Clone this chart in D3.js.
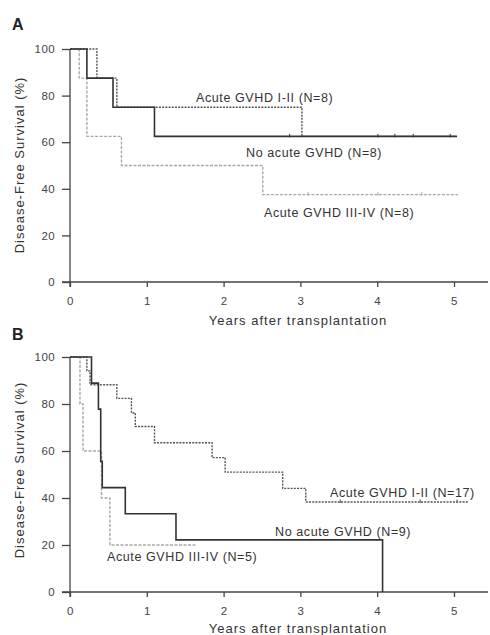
<!DOCTYPE html>
<html lang="en">
<head>
  <meta charset="utf-8">
  <title>Disease-free survival by acute GVHD</title>
  <script src="https://d3js.org/d3.v7.min.js"></script>
  <style>
    body { margin: 0; background: white; }
    svg { font-family: "Liberation Sans", Arial, sans-serif; }
    .tick text { font-size: 11.5px; fill: #444; letter-spacing: 0.4px; }
    .tick line { stroke: #444; stroke-width: 1.3; }
    .axisline { stroke: #444; stroke-width: 1.3; }
    .title { font-size: 13px; fill: #333; letter-spacing: 1px; }
    .label { font-size: 12.5px; fill: #333; letter-spacing: 0.6px; }
    .panel { font-size: 16px; font-weight: bold; fill: #222; }
  </style>
</head>
<body>
  <div id="chart"></div>
  <script>
    var w = 490;
    var h = 635;

    var yearTicks = [0, 1, 2, 3, 4, 5];
    var pctTicks = [0, 20, 40, 60, 80, 100];

    // panel A, step curves (years, % disease-free)
    var aMildYears = [0, 0.35, 0.61, 3.02, 5.03];
    var aMildSurv  = [100, 87.5, 75, 62.5, 62.5];
    var aNoneYears = [0, 0.22, 0.56, 1.1, 5.04];
    var aNoneSurv  = [100, 87.5, 75, 62.5, 62.5];
    var aSevYears  = [0, 0.12, 0.22, 0.67, 2.51, 5.05];
    var aSevSurv   = [100, 87.5, 62.5, 50, 37.5, 37.5];
    var aNoneCens  = [2.86, 4.01, 4.23, 4.47, 4.95];
    var aSevCens   = [3.1, 4.01, 4.58];

    // panel B
    var bMildYears = [0, 0.22, 0.26, 0.61, 0.8, 0.85, 1.1, 1.85, 2.02, 2.77, 3.07, 5.18];
    var bMildSurv  = [100, 94.1, 88.2, 82.4, 76.2, 70.4, 63.5, 57.2, 51, 44.1, 38.3, 38.3];
    var bNoneYears = [0, 0.28, 0.37, 0.4, 0.42, 0.72, 1.38, 4.07, 4.07];
    var bNoneSurv  = [100, 88.9, 77.8, 55.6, 44.4, 33.3, 22.2, 0, 0];
    var bSevYears  = [0, 0.13, 0.17, 0.41, 0.52, 1.65];
    var bSevSurv   = [100, 80, 60, 40, 20, 20];
    var bMildCens  = [3.52, 4.56, 5.04];

    var x = d3.scaleLinear().domain([0, 5]).range([70, 454]);

    var svg = d3.select('#chart').append('svg')
      .attr('width', w)
      .attr('height', h);

    function zip(xs, ys) {
      return xs.map(function (d, i) { return [d, ys[i]]; });
    }

    var styles = {
      mild: { stroke: '#555', width: 1.4, dash: '2,1.2' },
      none: { stroke: '#333', width: 1.6, dash: null },
      sev:  { stroke: '#a8a8a8', width: 1.4, dash: '3,1.5' }
    };

    function panel(opt) {
      var y = d3.scaleLinear().domain([0, 100]).range([opt.y0, opt.y100]);
      var g = svg.append('g');

      g.append('text').attr('class', 'panel')
        .attr('x', 12).attr('y', opt.letterY).text(opt.letter);

      var yAxis = d3.axisLeft(y).tickValues(pctTicks).tickSize(8).tickPadding(7).tickSizeOuter(0);
      var ya = g.append('g').attr('transform', 'translate(70,0)').call(yAxis);
      ya.select('.domain').remove();

      var xAxis = d3.axisBottom(x).tickValues(yearTicks).tickFormat(d3.format('d'))
        .tickSize(5).tickPadding(10).tickSizeOuter(0);
      var xa = g.append('g').attr('transform', 'translate(0,' + opt.y0 + ')').call(xAxis);
      xa.select('.domain').remove();

      g.append('line').attr('class', 'axisline')
        .attr('x1', 70).attr('x2', 70).attr('y1', y(100)).attr('y2', y(0) + 5);
      g.append('line').attr('class', 'axisline')
        .attr('x1', 62).attr('x2', 488).attr('y1', y(0)).attr('y2', y(0));

      g.append('text').attr('class', 'title')
        .attr('text-anchor', 'middle')
        .attr('transform', 'translate(24,' + opt.yTitleY + ') rotate(-90)')
        .text('Disease-Free Survival (%)');
      g.append('text').attr('class', 'title')
        .attr('text-anchor', 'middle')
        .attr('x', 298).attr('y', opt.xTitleY)
        .text('Years after transplantation');

      var line = d3.line()
        .x(function (d) { return x(d[0]); })
        .y(function (d) { return y(d[1]); })
        .curve(d3.curveStepAfter);

      opt.curves.forEach(function (c) {
        var s = styles[c.kind];
        g.append('path')
          .attr('d', line(zip(c.years, c.surv)))
          .attr('fill', 'none')
          .attr('stroke', s.stroke)
          .attr('stroke-width', s.width)
          .attr('stroke-dasharray', s.dash);
        if (c.cens) {
          var last = c.surv[c.surv.length - 1];
          g.selectAll(null).data(c.cens).enter().append('line')
            .attr('x1', function (d) { return x(d); })
            .attr('x2', function (d) { return x(d); })
            .attr('y1', y(last) - 2.5)
            .attr('y2', y(last) + 1)
            .attr('stroke', s.stroke)
            .attr('stroke-width', 1);
        }
      });

      g.selectAll('text.label').data(opt.labels).enter().append('text')
        .attr('class', 'label')
        .attr('x', function (d) { return d.x; })
        .attr('y', function (d) { return d.y; })
        .text(function (d) { return d.text; });
    }

    panel({
      letter: 'A', letterY: 30, y0: 282, y100: 49, yTitleY: 165, xTitleY: 325,
      curves: [
        { kind: 'sev', years: aSevYears, surv: aSevSurv, cens: aSevCens },
        { kind: 'mild', years: aMildYears, surv: aMildSurv },
        { kind: 'none', years: aNoneYears, surv: aNoneSurv, cens: aNoneCens }
      ],
      labels: [
        { text: 'Acute GVHD I-II (N=8)', x: 196, y: 102 },
        { text: 'No acute GVHD (N=8)', x: 246, y: 157 },
        { text: 'Acute GVHD III-IV (N=8)', x: 264, y: 217 }
      ]
    });

    panel({
      letter: 'B', letterY: 340, y0: 592, y100: 357, yTitleY: 470, xTitleY: 633,
      curves: [
        { kind: 'sev', years: bSevYears, surv: bSevSurv },
        { kind: 'mild', years: bMildYears, surv: bMildSurv, cens: bMildCens },
        { kind: 'none', years: bNoneYears, surv: bNoneSurv }
      ],
      labels: [
        { text: 'Acute GVHD I-II (N=17)', x: 330, y: 497 },
        { text: 'No acute GVHD (N=9)', x: 275, y: 536 },
        { text: 'Acute GVHD III-IV (N=5)', x: 107, y: 561 }
      ]
    });
  </script>
</body>
</html>
